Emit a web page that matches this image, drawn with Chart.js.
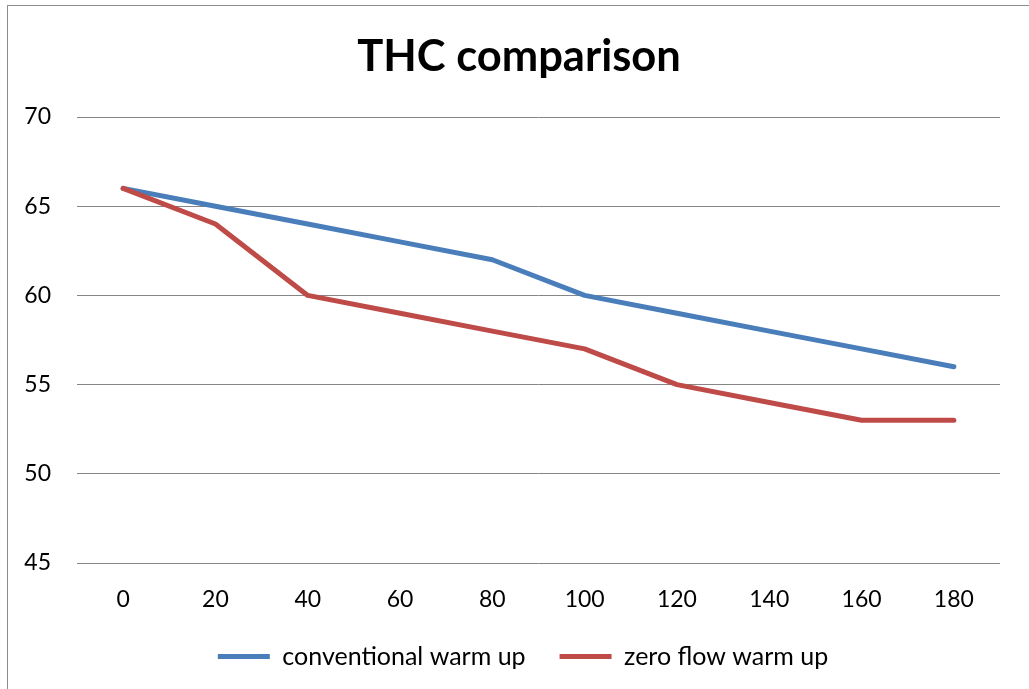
<!DOCTYPE html>
<html>
<head>
<meta charset="utf-8">
<script src="https://cdn.jsdelivr.net/npm/chart.js@4/dist/chart.umd.min.js"></script>
<style>
  html, body { margin: 0; padding: 0; background: #fff; overflow: hidden; }
  #wrap { position: relative; width: 1029px; height: 689px; }
  #frame { position: absolute; left: 7px; top: 5px; width: 1030px; height: 700px; border: 1px solid #8c8c8c; box-sizing: border-box; pointer-events: none; }
  canvas { position: absolute; left: 0; top: 0; }
</style>
</head>
<body>
<div id="wrap">
  <canvas id="c" width="1029" height="689"></canvas>
  <div id="frame"></div>
</div>
<script>
const categories = ["0", "20", "40", "60", "80", "100", "120", "140", "160", "180"];
const conventionalWarmUp = [66, 65, 64, 63, 62, 60, 59, 58, 57, 56];
const zeroFlowWarmUp = [66, 64, 60, 59, 58, 57, 55, 54, 53, 53];
const seriesNames = ["conventional warm up", "zero flow warm up"];
const yTicks = [45, 50, 55, 60, 65, 70];
const chartTitle = "THC comparison";

const FONT = "Lato, 'Open Sans', sans-serif";

// Center the title and legend on the framed area rather than the padded layout box
const centerBlocks = {
  id: 'centerBlocks',
  afterLayout(chart) {
    if (chart.titleBlock) chart.titleBlock.left = 38;
    if (chart.legend) chart.legend.left = 46;
  }
};

new Chart(document.getElementById('c'), {
  type: 'line',
  data: {
    labels: categories,
    datasets: [
      {
        label: seriesNames[0],
        data: conventionalWarmUp,
        borderColor: '#4A7EBB',
        backgroundColor: '#4A7EBB',
        borderWidth: 5,
        pointRadius: 0,
        tension: 0,
        borderJoinStyle: 'round',
        borderCapStyle: 'round',
        order: 1
      },
      {
        label: seriesNames[1],
        data: zeroFlowWarmUp,
        borderColor: '#BE4B48',
        backgroundColor: '#BE4B48',
        borderWidth: 5,
        pointRadius: 0,
        tension: 0,
        borderJoinStyle: 'round',
        borderCapStyle: 'round',
        order: 0
      }
    ]
  },
  plugins: [centerBlocks],
  options: {
    responsive: false,
    animation: false,
    layout: { padding: { top: 0, right: 29, bottom: 10, left: 0 } },
    plugins: {
      tooltip: { enabled: false },
      title: {
        display: true,
        text: chartTitle,
        color: '#000',
        font: { family: FONT, size: 43.5, weight: 'bold', lineHeight: 1.2 },
        padding: { top: 31, bottom: 33.8 }
      },
      legend: {
        position: 'bottom',
        labels: {
          color: '#000',
          font: { family: FONT, size: 25 },
          boxWidth: 52,
          boxHeight: 5,
          padding: 34,
          sort: (a, b) => a.datasetIndex - b.datasetIndex,
          generateLabels: (chart) => {
            const items = Chart.defaults.plugins.legend.labels.generateLabels(chart);
            items.forEach(it => { it.lineWidth = 0; it.strokeStyle = 'rgba(0,0,0,0)'; });
            return items;
          }
        }
      }
    },
    scales: {
      x: {
        type: 'category',
        offset: true,
        grid: { display: false, drawTicks: false },
        border: { display: false },
        ticks: { color: '#000', font: { family: FONT, size: 23 }, padding: 23, maxRotation: 0, autoSkip: false },
        afterFit: (s) => { s.height = 47; }
      },
      y: {
        min: 45,
        max: 70,
        afterBuildTicks: (s) => { s.ticks = yTicks.map(v => ({ value: v })); },
        grid: { color: '#868686', lineWidth: 1, drawTicks: false },
        border: { display: false },
        ticks: { color: '#000', font: { family: FONT, size: 23 }, padding: 26 },
        afterFit: (s) => { s.width = 77; }
      }
    }
  }
});
</script>
</body>
</html>
